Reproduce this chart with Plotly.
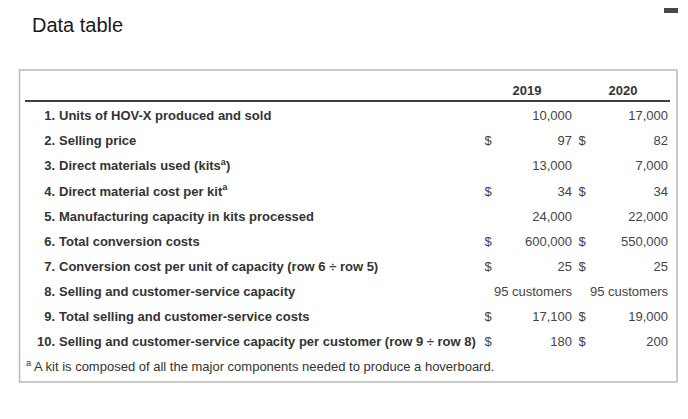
import plotly.graph_objects as go

# ---- data ----
title_text = "Data table"
years = ["2019", "2020"]
row_numbers = ["1.", "2.", "3.", "4.", "5.", "6.", "7.", "8.", "9.", "10."]
row_labels = [
    "Units of HOV-X produced and sold",
    "Selling price",
    "Direct materials used (kits<sup>a</sup>)",
    "Direct material cost per kit<sup>a</sup>",
    "Manufacturing capacity in kits processed",
    "Total conversion costs",
    "Conversion cost per unit of capacity (row 6 ÷ row 5)",
    "Selling and customer-service capacity",
    "Total selling and customer-service costs",
    "Selling and customer-service capacity per customer (row 9 ÷ row 8)",
]
values_2019 = [10000, 97, 13000, 34, 24000, 600000, 25, 95, 17100, 180]
values_2020 = [17000, 82, 7000, 34, 22000, 550000, 25, 95, 19000, 200]
has_dollar = [False, True, False, True, False, True, True, False, True, True]
unit_suffix = ["", "", "", "", "", "", "", " customers", "", ""]
footnote = "<sup>a</sup> A kit is composed of all the major components needed to produce a hoverboard."

# ---- layout constants (page-pixel canvas; the page body adds an 8px offset) ----
W, H = 688, 419
OFF = 8
ROW0, ROW_STEP = 117, 25.1
HEADER_Y = 92
X_NUM_RIGHT = 55
X_LABEL_LEFT = 59
X_DOLLAR = [488, 582]
X_VAL_RIGHT = [572, 668]
X_YEAR = [527, 623]
FONT = "Arial, Liberation Sans, sans-serif"
LABEL_COLOR = "#333333"
VALUE_COLOR = "#444444"

row_y = [ROW0 + ROW_STEP * i for i in range(len(row_labels))]

def fmt(v, suffix):
    return f"{v:,}{suffix}"

fig = go.Figure()

# row numbers (right-aligned)
fig.add_trace(go.Scatter(
    x=[X_NUM_RIGHT] * len(row_numbers), y=row_y, text=[f"<b>{n}</b>" for n in row_numbers],
    mode="text", textposition="middle left",
    textfont=dict(family=FONT, size=13, color=LABEL_COLOR), hoverinfo="skip", showlegend=False,
))
# row labels (left-aligned)
fig.add_trace(go.Scatter(
    x=[X_LABEL_LEFT] * len(row_labels), y=row_y, text=[f"<b>{t}</b>" for t in row_labels],
    mode="text", textposition="middle right",
    textfont=dict(family=FONT, size=13, color=LABEL_COLOR), hoverinfo="skip", showlegend=False,
))
# year headers
fig.add_trace(go.Scatter(
    x=X_YEAR, y=[HEADER_Y] * 2, text=[f"<b>{y}</b>" for y in years],
    mode="text", textposition="middle center",
    textfont=dict(family=FONT, size=13, color=LABEL_COLOR), hoverinfo="skip", showlegend=False,
))
# values and dollar signs
for k, vals in enumerate([values_2019, values_2020]):
    fig.add_trace(go.Scatter(
        x=[X_VAL_RIGHT[k]] * len(vals), y=row_y,
        text=[fmt(v, s) for v, s in zip(vals, unit_suffix)],
        mode="text", textposition="middle left",
        textfont=dict(family=FONT, size=13, color=VALUE_COLOR), hoverinfo="skip", showlegend=False,
    ))
    dy = [y for y, d in zip(row_y, has_dollar) if d]
    fig.add_trace(go.Scatter(
        x=[X_DOLLAR[k]] * len(dy), y=dy, text=["$"] * len(dy),
        mode="text", textposition="middle center",
        textfont=dict(family=FONT, size=13, color=VALUE_COLOR), hoverinfo="skip", showlegend=False,
    ))
# footnote
fig.add_trace(go.Scatter(
    x=[26], y=[ROW0 + ROW_STEP * len(row_labels)], text=[footnote],
    mode="text", textposition="middle right",
    textfont=dict(family=FONT, size=13, color=LABEL_COLOR), hoverinfo="skip", showlegend=False,
))

fig.update_layout(
    width=W, height=H,
    margin=dict(l=0, r=0, t=0, b=0),
    paper_bgcolor="white", plot_bgcolor="white",
    xaxis=dict(range=[OFF, W + OFF], visible=False, fixedrange=True),
    yaxis=dict(range=[H + OFF, OFF], visible=False, fixedrange=True),
    shapes=[
        dict(type="rect", xref="x", yref="y", x0=19.5, x1=677, y0=70, y1=382,
             line=dict(color="#bbbbbb", width=1.5), fillcolor="rgba(0,0,0,0)"),
        dict(type="line", xref="x", yref="y", x0=25, x1=670, y0=101, y1=101,
             line=dict(color="#000000", width=1.3)),
        dict(type="rect", xref="x", yref="y", x0=664, x1=678, y0=8, y1=13,
             line=dict(width=0), fillcolor="#4a4a4a"),
    ],
    annotations=[
        dict(text=title_text, xref="x", yref="y", x=30, y=25, xanchor="left", yanchor="middle",
             showarrow=False, font=dict(family=FONT, size=20, color="#1a1a1a")),
    ],
)

fig.write_html("out.html")
